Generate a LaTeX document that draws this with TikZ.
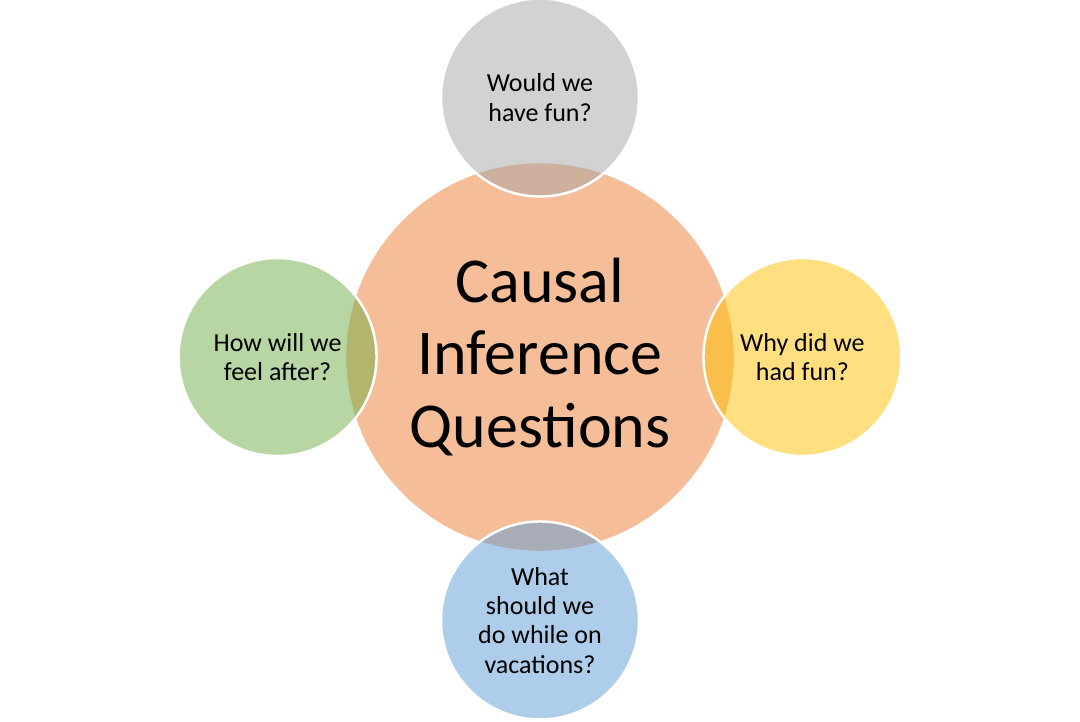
\documentclass[tikz,border=0pt]{standalone}
\usepackage{fontspec}
\setmainfont{Carlito}
\usetikzlibrary{positioning}
\definecolor{oforange}{HTML}{ED7D31}
\definecolor{ofgray}{HTML}{A5A5A5}
\definecolor{ofgreen}{HTML}{70AD47}
\definecolor{ofyellow}{HTML}{FFC000}
\definecolor{ofblue}{HTML}{5B9BD5}

\begin{document}
\begin{tikzpicture}[line width=0.7pt,
    bubble/.style={circle, draw=white, fill opacity=0.5, text opacity=1,
      inner sep=0pt, align=center},
    hub/.style={bubble, minimum size=3.9cm,
      font=\fontsize{18.2}{20.5}\selectfont},
    petal/.style={bubble, minimum size=1.98cm,
      font=\fontsize{7.4}{8.3}\selectfont}]
    \useasboundingbox (0,0) rectangle (10.8,7.21);
    \node[hub, fill=oforange] (hub) at (5.40,3.64) {Causal\\Inference\\Questions};
    \node[petal, fill=ofgray, above=-0.37cm of hub] (fun) {Would we\\have fun?};
    \node[petal, fill=ofgreen, left=-0.34cm of hub] (feel) {How will we\\feel after?};
    \node[petal, fill=ofyellow, right=-0.34cm of hub] (why) {Why did we\\had fun?};
    \node[petal, fill=ofblue, below=-0.33cm of hub] (do) {What\\should we\\do while on\\vacations?};
  \end{tikzpicture}
\end{document}
